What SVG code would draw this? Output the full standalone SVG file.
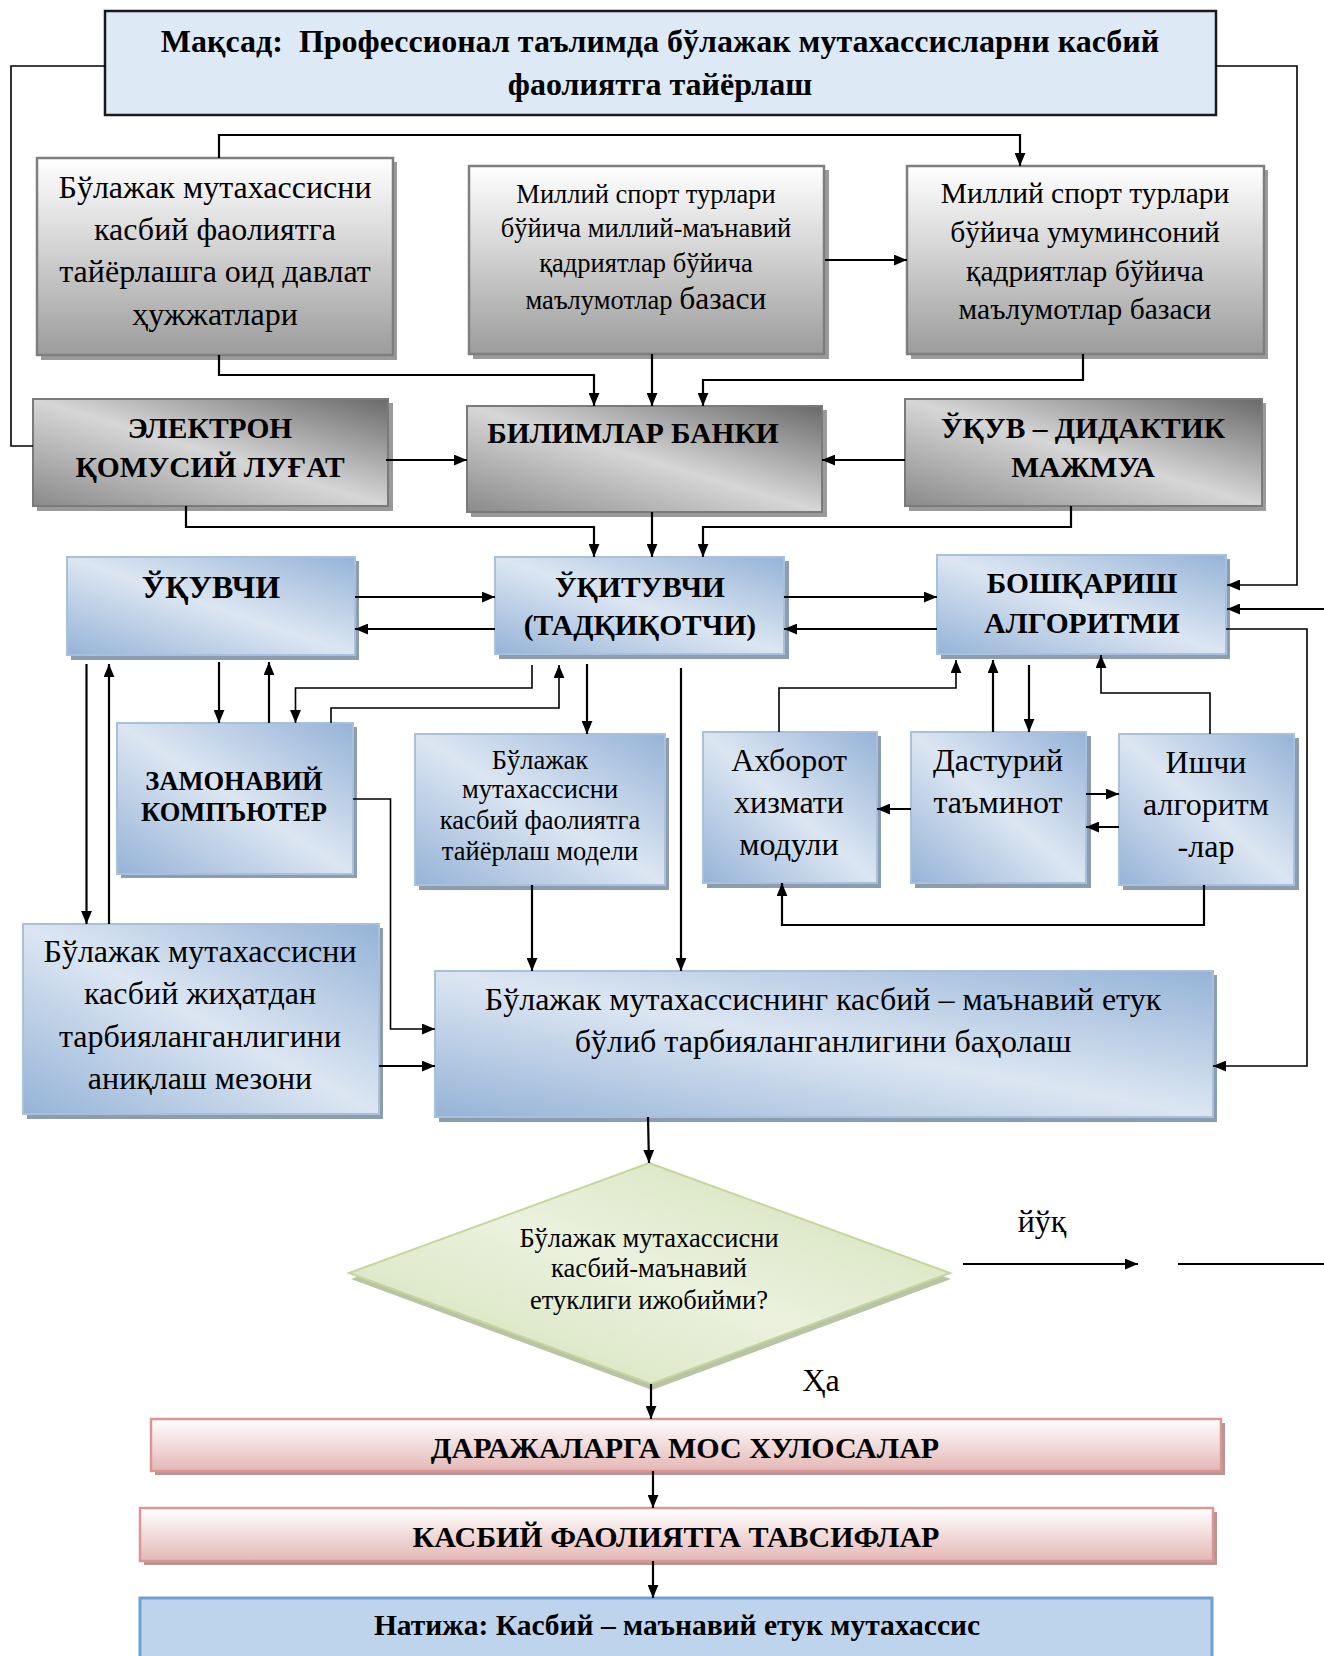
<svg xmlns="http://www.w3.org/2000/svg" width="1324" height="1656" viewBox="0 0 1324 1656">
<defs>
<linearGradient id="gGray" x1="0" y1="0" x2="0" y2="1"><stop offset="0" stop-color="#ffffff"/><stop offset="0.45" stop-color="#d4d4d4"/><stop offset="1" stop-color="#9c9c9c"/></linearGradient>
<linearGradient id="gDark" x1="1" y1="0" x2="0" y2="1"><stop offset="0" stop-color="#6a6a6a"/><stop offset="0.5" stop-color="#d6d6d6"/><stop offset="1" stop-color="#8a8a8a"/></linearGradient>
<linearGradient id="gBlue" x1="1" y1="0" x2="0" y2="1"><stop offset="0" stop-color="#95b3d7"/><stop offset="0.5" stop-color="#dce6f2"/><stop offset="1" stop-color="#95b3d7"/></linearGradient>
<linearGradient id="gPink" x1="0" y1="0" x2="0" y2="1"><stop offset="0" stop-color="#ffffff"/><stop offset="1" stop-color="#e4b7b6"/></linearGradient>
<linearGradient id="gGreen" x1="1" y1="0" x2="0" y2="1"><stop offset="0" stop-color="#d2e0b4"/><stop offset="0.5" stop-color="#ebf1de"/><stop offset="1" stop-color="#d2e0b4"/></linearGradient>
<marker id="ah" viewBox="0 0 12 10" refX="12" refY="5" markerWidth="13" markerHeight="11" markerUnits="userSpaceOnUse" orient="auto"><path d="M0,0 L12,5 L0,10 z" fill="#000"/></marker>
<style>
.t{font-family:"Liberation Serif","Times New Roman",serif;fill:#000;text-anchor:middle}
.b{font-weight:bold}
.s32{font-size:32px}.s31{font-size:31.5px}.s30{font-size:30px}.s295{font-size:29.5px}.s265{font-size:26.5px}
.sh{fill:#9a9a9a}
.shb{fill:#8e9cb0}
.gray{fill:url(#gGray);stroke:#7f7f7f;stroke-width:2.5}
.dark{fill:url(#gDark);stroke:#7a7a7a;stroke-width:2}
.blue{fill:url(#gBlue);stroke:#a9c0dc;stroke-width:2}
.pink{fill:url(#gPink);stroke:#d99694;stroke-width:2.5}
.c{fill:none;stroke:#000;stroke-width:2.2}
.c1{fill:none;stroke:#000;stroke-width:1.6}
.a{marker-end:url(#ah)}
</style>
</defs>
<rect width="1324" height="1656" fill="#ffffff"/>

<g id="goal">
<rect x="105" y="11" width="1111" height="104" fill="#dde9f5" stroke="#1a1a1a" stroke-width="2.5"/>
<text class="t b s32" x="660" y="52" xml:space="preserve">Мақсад:  Профессионал таълимда бўлажак мутахассисларни касбий</text>
<text class="t b s32" x="660" y="95">фаолиятга тайёрлаш</text>
</g>

<g id="docs">
<rect class="sh" x="41" y="162" width="356" height="198"/>
<rect class="gray" x="37" y="158" width="356" height="197"/>
<text class="t s32" x="215" y="198">Бўлажак мутахассисни</text>
<text class="t s32" x="215" y="240">касбий фаолиятга</text>
<text class="t s32" x="215" y="282">тайёрлашга оид давлат</text>
<text class="t s32" x="215" y="325">ҳужжатлари</text>
</g>

<g id="db-national">
<rect class="sh" x="473" y="170" width="356" height="189"/>
<rect class="gray" x="469" y="166" width="355" height="188"/>
<text class="t s265" x="646" y="203">Миллий спорт турлари</text>
<text class="t s265" x="646" y="237">бўйича миллий-маънавий</text>
<text class="t s265" x="646" y="272">қадриятлар бўйича</text>
<text class="t s265" x="646" y="309">маълумотлар <tspan class="s31">базаси</tspan></text>
</g>

<g id="db-universal">
<rect class="sh" x="911" y="170" width="357" height="189"/>
<rect class="gray" x="907" y="166" width="357" height="188"/>
<text class="t s295" x="1085" y="203">Миллий спорт турлари</text>
<text class="t s295" x="1085" y="242">бўйича умуминсоний</text>
<text class="t s295" x="1085" y="281">қадриятлар бўйича</text>
<text class="t s295" x="1085" y="319">маълумотлар базаси</text>
</g>

<g id="dictionary">
<rect class="sh" x="37" y="403" width="356" height="108"/>
<rect class="dark" x="33" y="399" width="355" height="107"/>
<text class="t b s295" x="210" y="438">ЭЛЕКТРОН</text>
<text class="t b s295" x="210" y="477">ҚОМУСИЙ ЛУҒАТ</text>
</g>

<g id="knowledge-bank">
<rect class="sh" x="471" y="410" width="356" height="107"/>
<rect class="dark" x="467" y="406" width="355" height="106"/>
<text class="t b s295" x="633" y="443">БИЛИМЛАР БАНКИ</text>
</g>

<g id="didactic">
<rect class="sh" x="909" y="403" width="357" height="108"/>
<rect class="dark" x="905" y="399" width="357" height="107"/>
<text class="t b s295" x="1083" y="438">ЎҚУВ – ДИДАКТИК</text>
<text class="t b s295" x="1083" y="477">МАЖМУА</text>
</g>

<g id="student">
<rect class="shb" x="71" y="561" width="288" height="99"/>
<rect class="blue" x="67" y="557" width="288" height="98"/>
<text class="t b s32" x="211" y="598">ЎҚУВЧИ</text>
</g>

<g id="teacher">
<rect class="shb" x="499" y="561" width="290" height="98"/>
<rect class="blue" x="495" y="557" width="289" height="97"/>
<text class="t b s295" x="640" y="597">ЎҚИТУВЧИ</text>
<text class="t b s295" x="640" y="635">(ТАДҚИҚОТЧИ)</text>
</g>

<g id="control">
<rect class="shb" x="941" y="559" width="289" height="100"/>
<rect class="blue" x="937" y="555" width="289" height="99"/>
<text class="t b s295" x="1082" y="593">БОШҚАРИШ</text>
<text class="t b s295" x="1082" y="633">АЛГОРИТМИ</text>
</g>

<g id="computer">
<rect class="shb" x="121" y="727" width="236" height="151"/>
<rect class="blue" x="117" y="723" width="236" height="151"/>
<text class="t b s265" x="234" y="790">ЗАМОНАВИЙ</text>
<text class="t b s265" x="234" y="821">КОМПЪЮТЕР</text>
</g>

<g id="model">
<rect class="shb" x="419" y="738" width="250" height="152"/>
<rect class="blue" x="415" y="734" width="250" height="151"/>
<text class="t s265" x="540" y="769">Бўлажак</text>
<text class="t s265" x="540" y="798">мутахассисни</text>
<text class="t s265" x="540" y="829">касбий фаолиятга</text>
<text class="t s265" x="540" y="860">тайёрлаш модели</text>
</g>

<g id="info-module">
<rect class="shb" x="707" y="736" width="174" height="152"/>
<rect class="blue" x="703" y="732" width="174" height="151"/>
<text class="t s32" x="789" y="771">Ахборот</text>
<text class="t s32" x="789" y="813">хизмати</text>
<text class="t s32" x="789" y="855">модули</text>
</g>

<g id="software">
<rect class="shb" x="915" y="736" width="176" height="152"/>
<rect class="blue" x="911" y="732" width="175" height="151"/>
<text class="t s32" x="998" y="771">Дастурий</text>
<text class="t s32" x="998" y="813">таъминот</text>
</g>

<g id="algorithms">
<rect class="shb" x="1123" y="738" width="176" height="152"/>
<rect class="blue" x="1119" y="734" width="175" height="151"/>
<text class="t s32" x="1206" y="773">Ишчи</text>
<text class="t s32" x="1206" y="815">алгоритм</text>
<text class="t s32" x="1206" y="857">-лар</text>
</g>

<g id="criteria">
<rect class="shb" x="27" y="928" width="356" height="191"/>
<rect class="blue" x="23" y="924" width="356" height="190"/>
<text class="t s32" x="200" y="962">Бўлажак мутахассисни</text>
<text class="t s32" x="200" y="1004">касбий жиҳатдан</text>
<text class="t s32" x="200" y="1047">тарбияланганлигини</text>
<text class="t s32" x="200" y="1089">аниқлаш мезони</text>
</g>

<g id="assessment">
<rect class="shb" x="439" y="975" width="778" height="147"/>
<rect class="blue" x="435" y="971" width="778" height="146"/>
<text class="t s32" x="823" y="1010">Бўлажак мутахассиснинг касбий – маънавий етук</text>
<text class="t s32" x="823" y="1052">бўлиб тарбияланганлигини баҳолаш</text>
</g>

<g id="decision">
<polygon points="650,1169 951,1279 652,1390 351,1279" fill="#b9c4a4"/>
<polygon points="649,1163 950,1273 651,1384 349,1273" fill="url(#gGreen)" stroke="#c3d69b" stroke-width="2"/>
<text class="t s265" x="649" y="1247">Бўлажак мутахассисни</text>
<text class="t s265" x="649" y="1277">касбий-маънавий</text>
<text class="t s265" x="649" y="1309">етуклиги ижобийми?</text>
</g>

<g id="conclusions">
<rect x="155" y="1423" width="1070" height="52" fill="#b79594"/>
<rect class="pink" x="151" y="1419" width="1070" height="52"/>
<text class="t b s30" x="685" y="1458">ДАРАЖАЛАРГА МОС ХУЛОСАЛАР</text>
</g>

<g id="descriptions">
<rect x="144" y="1512" width="1073" height="53" fill="#b79594"/>
<rect class="pink" x="140" y="1508" width="1073" height="53"/>
<text class="t b s30" x="676" y="1547">КАСБИЙ ФАОЛИЯТГА ТАВСИФЛАР</text>
</g>

<g id="result">
<rect x="140" y="1598" width="1072" height="70" fill="#bed3ec" stroke="#6f9fd8" stroke-width="3"/>
<text class="t b s295" x="677" y="1635">Натижа: Касбий – маънавий етук мутахассис</text>
</g>

<g id="labels">
<text class="t s32" x="1042" y="1232">йўқ</text>
<text class="t s32" x="821" y="1391">Ҳа</text>
</g>

<g id="connectors">
<polyline class="c1" points="105,66 11,66 11,446 33,446"/>
<polyline class="c1 a" points="1216,66 1297,66 1297,585 1227,585"/>
<polyline class="c a" points="219,158 219,135 1020,135 1020,166"/>
<line class="c a" x1="825" y1="260" x2="907" y2="260"/>
<polyline class="c a" points="219,355 219,375 594,375 594,406"/>
<line class="c a" x1="652" y1="354" x2="652" y2="406"/>
<polyline class="c a" points="1083,354 1083,380 703,380 703,406"/>
<line class="c a" x1="386" y1="460" x2="467" y2="460"/>
<line class="c a" x1="905" y1="460" x2="822" y2="460"/>
<polyline class="c a" points="186,506 186,527 594,527 594,557"/>
<line class="c a" x1="652" y1="512" x2="652" y2="557"/>
<polyline class="c a" points="1071,506 1071,527 703,527 703,557"/>
<line class="c a" x1="355" y1="597" x2="495" y2="597"/>
<line class="c a" x1="495" y1="629" x2="355" y2="629"/>
<line class="c a" x1="784" y1="597" x2="937" y2="597"/>
<line class="c a" x1="937" y1="629" x2="784" y2="629"/>
<line class="c a" x1="1324" y1="609" x2="1227" y2="609"/>
<polyline class="c1 a" points="1226,629 1307,629 1307,1066 1213,1066"/>
<line class="c a" x1="86.5" y1="664" x2="86.5" y2="924"/>
<line class="c a" x1="109" y1="924" x2="109" y2="664"/>
<line class="c a" x1="219" y1="662" x2="219" y2="723"/>
<line class="c a" x1="269" y1="723" x2="269" y2="662"/>
<polyline class="c1 a" points="532,665 532,688 295.5,688 295.5,723"/>
<polyline class="c1 a" points="331,723 331,708 559,708 559,665"/>
<line class="c a" x1="587" y1="664" x2="587" y2="734"/>
<line class="c a" x1="681" y1="668" x2="681" y2="971"/>
<polyline class="c1 a" points="353,799 390.5,799 390.5,1029 435,1029"/>
<line class="c a" x1="532" y1="885" x2="532" y2="971"/>
<line class="c a" x1="379" y1="1066" x2="435" y2="1066"/>
<polyline class="c1 a" points="779,732 779,688 956,688 956,660"/>
<line class="c a" x1="993" y1="732" x2="993" y2="660"/>
<line class="c a" x1="1029" y1="665" x2="1029" y2="732"/>
<polyline class="c1 a" points="1210,734 1210,693 1101,693 1101,655"/>
<line class="c a" x1="911" y1="809" x2="877" y2="809"/>
<line class="c a" x1="1086" y1="794" x2="1119" y2="794"/>
<line class="c a" x1="1119" y1="827" x2="1086" y2="827"/>
<polyline class="c a" points="1204,885 1204,925 782,925 782,883"/>
<line class="c a" x1="648" y1="1117" x2="649" y2="1163"/>
<line class="c a" x1="963" y1="1264" x2="1138" y2="1264"/>
<line class="c" x1="1178" y1="1264" x2="1324" y2="1264"/>
<line class="c a" x1="651" y1="1384" x2="651" y2="1419"/>
<line class="c a" x1="653" y1="1471" x2="653" y2="1508"/>
<line class="c a" x1="653" y1="1561" x2="653" y2="1598"/>
</g>
</svg>
